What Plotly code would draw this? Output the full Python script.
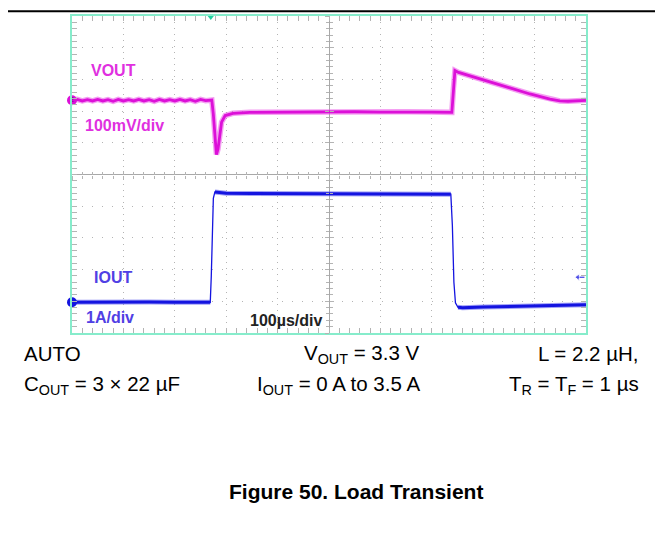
import plotly.graph_objects as go

# scope screen, in divisions (centre of screen = 0,0)
vout_t = [-5.0, -4.9, -4.8, -4.7, -4.6, -4.5, -4.4, -4.3, -4.2, -4.1,
          -4.0, -3.9, -3.8, -3.7, -3.6, -3.5, -3.4, -3.3, -3.2, -3.1,
          -3.0, -2.9, -2.8, -2.7, -2.6, -2.5, -2.4, -2.3,
          -2.28, -2.25, -2.22, -2.19, -2.16, -2.12, -2.09, -2.02, -1.87, -1.54, -1.0,
          -0.5, 0.0, 0.5, 1.0, 1.5, 2.0, 2.39,
          2.42, 2.45, 2.52, 2.74, 3.13, 3.52, 3.91, 4.30, 4.49, 4.65, 4.8, 4.9, 5.0]
vout_v = [2.34, 2.37, 2.32, 2.36, 2.32, 2.37, 2.32, 2.36, 2.31, 2.37,
          2.32, 2.36, 2.32, 2.37, 2.32, 2.36, 2.31, 2.37, 2.32, 2.36,
          2.32, 2.37, 2.32, 2.36, 2.31, 2.37, 2.33, 2.35,
          2.35, 1.90, 1.10, 0.63, 0.80, 1.30, 1.65, 1.86, 1.93, 1.96, 1.97,
          1.98, 1.97, 1.98, 1.97, 1.98, 1.97, 1.96,
          2.70, 3.28, 3.22, 3.12, 2.92, 2.73, 2.54, 2.38, 2.32, 2.31, 2.33, 2.35, 2.34]

# IOUT split into flat parts (thick, persistent) and fast edges (thin)
iout_low1_t = [-5.0, -4.5, -4.0, -3.5, -3.0, -2.5, -2.31]
iout_low1_v = [-4.03, -4.02, -4.03, -4.02, -4.03, -4.02, -4.03]
iout_rise_t = [-2.31, -2.29, -2.27, -2.25, -2.22]
iout_rise_v = [-4.03, -3.2, -1.5, -0.75, -0.55]
iout_high_t = [-2.22, -2.15, -2.0, -1.5, -1.0, 0.0, 1.0, 2.0, 2.37]
iout_high_v = [-0.55, -0.56, -0.59, -0.60, -0.60, -0.61, -0.61, -0.61, -0.62]
iout_fall_t = [2.37, 2.40, 2.43, 2.46, 2.51]
iout_fall_v = [-0.62, -1.6, -3.4, -4.05, -4.19]
iout_low2_t = [2.51, 2.6, 3.0, 3.5, 4.0, 4.5, 5.0]
iout_low2_v = [-4.19, -4.20, -4.18, -4.16, -4.14, -4.12, -4.11]

trig_pos = -2.3
trig_level = -3.24

MAG = "#dc10d8"
BLUE = "#1414e0"
FRAME = "#86eccb"
GRID = "#b4b4b4"
FONT = "Arial, Liberation Sans, sans-serif"

# plot area in page pixels; the page body adds an 8 px margin
OFF = 8
W, H = 663 - OFF, 548 - OFF
L, R, T, B = 72, 586, 14, 333


def px(x):
    return (x - L) / (R - L)


def py(y):
    return (B - y) / (B - T)


fig = go.Figure()

fig.add_trace(go.Scatter(x=vout_t, y=vout_v, mode="lines",
                         line=dict(color="#ec50e8", width=5.5), opacity=0.55,
                         hoverinfo="skip"))
fig.add_trace(go.Scatter(x=vout_t, y=vout_v, mode="lines",
                         line=dict(color=MAG, width=2.8), hoverinfo="skip"))

iout_t = iout_low1_t + iout_rise_t + iout_high_t + iout_fall_t + iout_low2_t
iout_v = iout_low1_v + iout_rise_v + iout_high_v + iout_fall_v + iout_low2_v
fig.add_trace(go.Scatter(x=iout_t, y=iout_v, mode="lines",
                         line=dict(color=BLUE, width=1.3), hoverinfo="skip"))
for tt, vv in [(iout_low1_t, iout_low1_v), (iout_high_t, iout_high_v),
               (iout_low2_t, iout_low2_v)]:
    fig.add_trace(go.Scatter(x=tt, y=vv, mode="lines",
                             line=dict(color="#4848ee", width=5), opacity=0.5,
                             hoverinfo="skip"))
    fig.add_trace(go.Scatter(x=tt, y=vv, mode="lines",
                             line=dict(color=BLUE, width=3), hoverinfo="skip"))

# channel ground markers, trigger position and trigger level
fig.add_trace(go.Scatter(x=[vout_t[0]], y=[vout_v[0]], mode="markers+text",
                         marker=dict(color=MAG, size=10), text=["2"],
                         textfont=dict(size=7, color="#700070"),
                         cliponaxis=False, hoverinfo="skip"))
fig.add_trace(go.Scatter(x=[iout_low1_t[0]], y=[iout_low1_v[0]], mode="markers",
                         marker=dict(color=BLUE, size=10),
                         cliponaxis=False, hoverinfo="skip"))
fig.add_trace(go.Scatter(x=[trig_pos], y=[5], mode="markers",
                         marker=dict(color="#20d0a0", size=8, symbol="triangle-down"),
                         cliponaxis=False, hoverinfo="skip"))
fig.add_trace(go.Scatter(x=[4.84, 4.97], y=[trig_level, trig_level], mode="lines+markers",
                         marker=dict(color=BLUE, size=[6, 0], symbol="triangle-left"),
                         line=dict(color=BLUE, width=1), hoverinfo="skip"))

# dummy traces so the centre-graticule tick axes get drawn
for xa, ya in [("x2", "y"), ("x3", "y"), ("x", "y2"), ("x", "y3")]:
    fig.add_trace(go.Scatter(x=[None], y=[None], xaxis=xa, yaxis=ya,
                             hoverinfo="skip"))

base = dict(range=[-5, 5], dtick=1, showticklabels=False, fixedrange=True)
frame_axis = dict(base, showgrid=True, gridcolor=GRID, gridwidth=1,
                  zeroline=True, zerolinecolor="#a8a8a8", zerolinewidth=1,
                  showline=True, linecolor=FRAME, linewidth=2, mirror="allticks",
                  ticks="inside", ticklen=5, tickcolor=GRID,
                  minor=dict(ticks="inside", dtick=0.2, ticklen=3, tickcolor=GRID,
                             showgrid=False))
centre_in = dict(base, showgrid=False, zeroline=False, showline=False,
                 anchor="free", position=0.5, ticks="inside", ticklen=4, tickcolor=GRID,
                 minor=dict(ticks="inside", dtick=0.2, ticklen=3, tickcolor=GRID))
centre_out = dict(centre_in, ticks="outside",
                  minor=dict(ticks="outside", dtick=0.2, ticklen=3, tickcolor=GRID))

fig.update_layout(
    width=W, height=H,
    margin=dict(l=L - OFF, r=663 - R, t=T - OFF, b=548 - B),
    paper_bgcolor="white", plot_bgcolor="white",
    showlegend=False,
    xaxis=dict(frame_axis, griddash="1px,5px"),
    yaxis=dict(frame_axis, griddash="1px,9px"),
    xaxis2=dict(centre_in, overlaying="x"),
    xaxis3=dict(centre_out, overlaying="x"),
    yaxis2=dict(centre_in, overlaying="y"),
    yaxis3=dict(centre_out, overlaying="y"),
    font=dict(family=FONT),
)

# page rule at the very top (as high as the page margin allows)
fig.add_shape(type="line", xref="paper", yref="paper",
              x0=px(OFF), x1=px(663), y0=py(OFF + 1.2), y1=py(OFF + 1.2),
              line=dict(color="black", width=2))


def label(text, x, y, color, size, bold=True, xanchor="center"):
    fig.add_annotation(text=f"<b>{text}</b>" if bold else text,
                       xref="paper", yref="paper", x=px(x), y=py(y),
                       xanchor=xanchor, yanchor="middle", showarrow=False,
                       font=dict(color=color, size=size, family=FONT))


label("VOUT", 113.5, 69, "#e030e0", 16)
label("100mV/div", 124, 124, "#e030e0", 16)
label("IOUT", 112.5, 277.5, "#5040e4", 16)
label("1A/div", 109.5, 317, "#5040e4", 16)
label("100µs/div", 286, 320.5, "#222222", 16)

label("AUTO", 22, 354, "black", 20.5, bold=False, xanchor="left")
label("V<sub>OUT</sub> = 3.3 V", 422, 354, "black", 20.5, bold=False, xanchor="right")
label("L = 2.2 µH,", 641, 354, "black", 20.5, bold=False, xanchor="right")
label("C<sub>OUT</sub> = 3 × 22 µF", 22, 385, "black", 20.5, bold=False, xanchor="left")
label("I<sub>OUT</sub> = 0 A to 3.5 A", 422, 385, "black", 20.5, bold=False, xanchor="right")
label("T<sub>R</sub> = T<sub>F</sub> = 1 µs", 641, 385, "black", 20.5, bold=False, xanchor="right")

label("Figure 50. Load Transient", 356, 492, "black", 21)

fig.write_html("out.html")
